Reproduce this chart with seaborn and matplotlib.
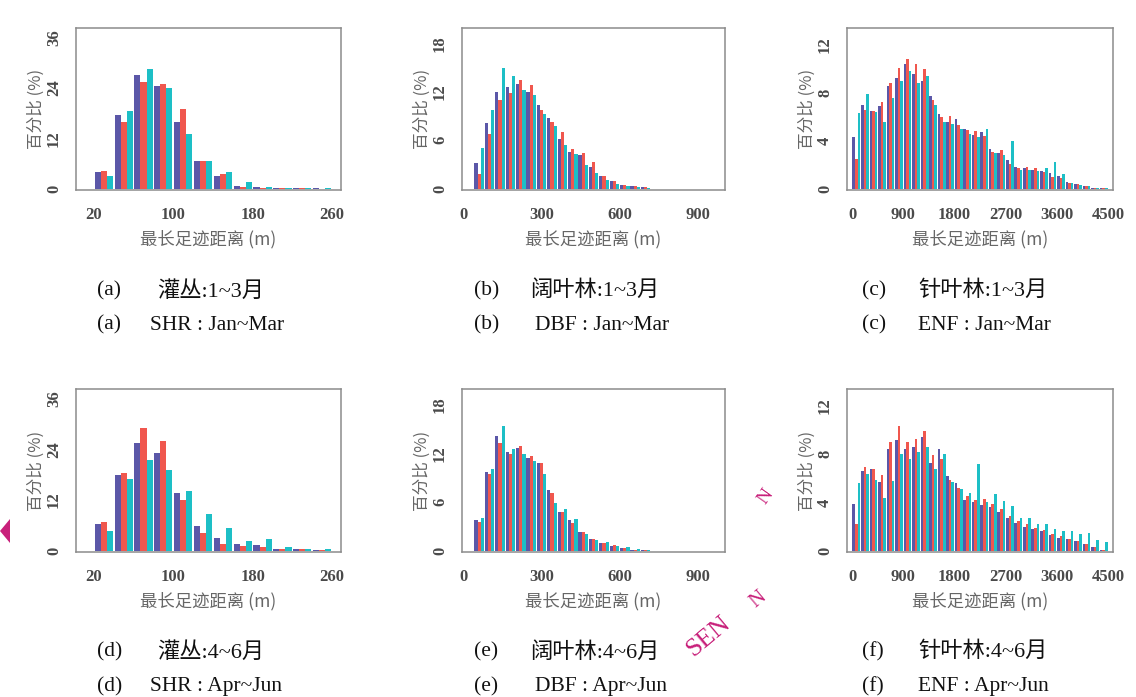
import matplotlib
matplotlib.use("Agg")
import matplotlib.pyplot as plt
import pandas as pd
import seaborn as sns
from matplotlib.patches import Polygon

# three observation series shown side by side in every bin
SERIES = ["S1", "S2", "S3"]
COLORS = ["#5b57a8", "#f0574e", "#1dbfc6"]

# bin centres (m)
SHR_BINS = [30, 50, 70, 90, 110, 130, 150, 170, 190, 210, 230, 250]
DBF_BINS = [60, 100, 140, 180, 220, 260, 300, 340, 380, 420, 460, 500, 540, 580, 620, 660, 700]
ENF_BINS = [75, 225, 375, 525, 675, 825, 975, 1125, 1275, 1425, 1575, 1725, 1875, 2025, 2175,
            2325, 2475, 2625, 2775, 2925, 3075, 3225, 3375, 3525, 3675, 3825, 3975, 4125, 4275, 4425]

# (a) SHR Jan~Mar, percent
SHR_Q1_S1 = [4.0, 17.5, 27.0, 24.5, 16.0, 6.5, 3.0, 0.6, 0.3, 0.1, 0.1, 0.1]
SHR_Q1_S2 = [4.2, 16.0, 25.5, 25.0, 19.0, 6.5, 3.5, 0.5, 0.2, 0.1, 0.1, 0.05]
SHR_Q1_S3 = [3.0, 18.5, 28.5, 24.0, 13.0, 6.5, 4.0, 1.5, 0.3, 0.2, 0.1, 0.1]
# (d) SHR Apr~Jun
SHR_Q2_S1 = [6.3, 18.0, 25.4, 23.1, 13.7, 5.9, 3.1, 1.7, 1.4, 0.5, 0.4, 0.2]
SHR_Q2_S2 = [6.7, 18.4, 29.0, 26.0, 12.1, 4.3, 1.6, 1.2, 0.9, 0.3, 0.3, 0.2]
SHR_Q2_S3 = [4.7, 17.1, 21.5, 19.2, 14.2, 8.8, 5.5, 2.3, 2.7, 0.9, 0.5, 0.3]

# (b) DBF Jan~Mar
DBF_Q1_S1 = [3.2, 8.2, 12.0, 12.6, 13.0, 12.0, 10.4, 8.8, 6.2, 4.5, 4.2, 2.7, 1.6, 1.0, 0.5, 0.3, 0.2]
DBF_Q1_S2 = [1.8, 6.8, 11.0, 11.8, 13.5, 12.8, 9.8, 8.3, 7.0, 4.9, 4.4, 3.3, 1.6, 1.0, 0.5, 0.3, 0.2]
DBF_Q1_S3 = [5.0, 9.8, 15.0, 14.0, 12.2, 11.6, 9.3, 7.8, 5.4, 4.3, 3.0, 2.0, 1.1, 0.6, 0.3, 0.2, 0.1]
# (e) DBF Apr~Jun
DBF_Q2_S1 = [3.8, 9.7, 14.1, 12.1, 12.7, 11.4, 10.8, 7.5, 4.8, 3.8, 2.3, 1.4, 1.0, 0.6, 0.3, 0.15, 0.1]
DBF_Q2_S2 = [3.6, 9.5, 13.3, 11.9, 12.9, 11.7, 10.8, 7.1, 4.8, 3.4, 2.3, 1.5, 0.9, 0.7, 0.4, 0.15, 0.1]
DBF_Q2_S3 = [4.0, 10.0, 15.4, 12.5, 11.9, 11.0, 9.4, 5.9, 5.2, 3.9, 2.1, 1.3, 1.1, 0.6, 0.5, 0.2, 0.1]

# (c) ENF Jan~Mar
ENF_Q1_S1 = [4.3, 7.0, 6.5, 6.9, 8.6, 9.2, 10.4, 9.6, 9.0, 7.7, 6.2, 5.6, 5.8, 5.0, 4.5,
             4.7, 3.3, 3.0, 2.4, 1.8, 1.7, 1.6, 1.5, 1.3, 1.1, 0.6, 0.4, 0.2, 0.1, 0.05]
ENF_Q1_S2 = [2.5, 6.6, 6.5, 7.2, 8.8, 10.1, 10.8, 10.4, 10.0, 7.4, 6.0, 6.1, 5.3, 4.9, 4.8,
             4.4, 3.1, 3.2, 2.1, 1.7, 1.8, 1.7, 1.4, 1.0, 0.9, 0.5, 0.4, 0.2, 0.1, 0.05]
ENF_Q1_S3 = [6.3, 7.9, 6.4, 5.6, 7.6, 9.0, 9.8, 8.8, 9.4, 7.0, 5.6, 5.4, 5.0, 4.6, 4.3,
             5.0, 3.0, 2.8, 4.0, 1.6, 1.6, 1.5, 1.7, 2.2, 1.2, 0.5, 0.3, 0.2, 0.1, 0.1]
# (f) ENF Apr~Jun
ENF_Q2_S1 = [3.9, 6.6, 6.8, 5.7, 8.4, 9.2, 8.4, 8.6, 9.4, 7.3, 8.4, 6.2, 5.6, 4.2, 4.0,
             3.8, 3.6, 3.2, 2.7, 2.3, 2.0, 1.8, 1.6, 1.3, 1.1, 1.0, 0.8, 0.6, 0.3, 0.1]
ENF_Q2_S2 = [2.2, 6.9, 6.8, 6.3, 9.0, 10.3, 9.0, 9.3, 9.9, 7.9, 7.6, 5.9, 5.2, 4.5, 4.2,
             4.3, 3.9, 3.5, 2.9, 2.5, 2.2, 1.9, 1.7, 1.4, 1.2, 1.0, 0.8, 0.6, 0.3, 0.1]
ENF_Q2_S3 = [5.6, 6.4, 5.9, 4.4, 5.8, 8.0, 7.6, 8.2, 8.6, 6.8, 8.0, 5.7, 5.1, 4.8, 7.2,
             4.0, 4.7, 4.1, 3.7, 2.7, 2.7, 2.2, 2.2, 1.8, 1.6, 1.6, 1.4, 1.5, 0.9, 0.7]

TITLES_CN = ["灌丛:1~3月", "阔叶林:1~3月", "针叶林:1~3月", "灌丛:4~6月", "阔叶林:4~6月", "针叶林:4~6月"]
TITLES_EN = ["SHR : Jan~Mar", "DBF : Jan~Mar", "ENF : Jan~Mar", "SHR : Apr~Jun", "DBF : Apr~Jun", "ENF : Apr~Jun"]
LETTERS = ["(a)", "(b)", "(c)", "(d)", "(e)", "(f)"]

XLABEL = "最长足迹距离 (m)"
YLABEL = "百分比 (%)"

W, H = 1136, 697
CJK = ["Noto Sans CJK SC", "DejaVu Sans"]
SERIF = ["Liberation Serif", "Noto Sans CJK SC"]


def long_frame(bins, values):
    rows = []
    for name, vals in zip(SERIES, values):
        for b, v in zip(bins, vals):
            rows.append({"bin": b, "series": name, "pct": v})
    return pd.DataFrame(rows)


def draw_panel(ax, bins, values, xlim, xticks, ylim, yticks):
    df = long_frame(bins, values)
    sns.barplot(data=df, x="bin", y="pct", hue="series", hue_order=SERIES,
                palette=COLORS, native_scale=True, width=0.92, errorbar=None,
                linewidth=0, saturation=1, legend=False, ax=ax)
    ax.set_xlim(*xlim)
    ax.set_ylim(*ylim)
    ax.set_xticks(xticks)
    ax.set_xticklabels([str(t) for t in xticks])
    ax.set_yticks(yticks)
    ax.set_yticklabels([str(t) for t in yticks], rotation=90, va="center")
    for lab in ax.get_xticklabels() + ax.get_yticklabels():
        lab.set_family("Liberation Serif")
        lab.set_fontweight("bold")
        lab.set_fontsize(12)
        lab.set_color("#4a4a4a")
    ax.tick_params(axis="both", direction="out", length=5, width=1.0, color="#808080")
    ax.tick_params(axis="x", pad=7)
    ax.tick_params(axis="y", pad=5)
    for sp in ax.spines.values():
        sp.set_visible(True)
        sp.set_color("#8c8c8c")
        sp.set_linewidth(1.1)
    ax.set_xlabel(XLABEL, family=CJK, fontsize=12.5, color="#666666", labelpad=5)
    ax.set_ylabel(YLABEL, family=CJK, fontsize=12, color="#666666", labelpad=1)
    ax.set_facecolor("white")


sns.set_theme(style="white")
plt.rcParams["font.family"] = CJK

fig = plt.figure(figsize=(W / 100, H / 100), dpi=100)
fig.patch.set_facecolor("white")

col_left = [76, 462, 847]
col_right = [341, 725, 1113]
row_top = [28, 389]
row_bottom = [190, 552]

panel_data = [
    (SHR_BINS, [SHR_Q1_S1, SHR_Q1_S2, SHR_Q1_S3]),
    (DBF_BINS, [DBF_Q1_S1, DBF_Q1_S2, DBF_Q1_S3]),
    (ENF_BINS, [ENF_Q1_S1, ENF_Q1_S2, ENF_Q1_S3]),
    (SHR_BINS, [SHR_Q2_S1, SHR_Q2_S2, SHR_Q2_S3]),
    (DBF_BINS, [DBF_Q2_S1, DBF_Q2_S2, DBF_Q2_S3]),
    (ENF_BINS, [ENF_Q2_S1, ENF_Q2_S2, ENF_Q2_S3]),
]
axis_cfg = [
    dict(xlim=(2, 269), xticks=[20, 100, 180, 260], ylim=(-0.3, 38.3), yticks=[0, 12, 24, 36]),
    dict(xlim=(-6, 1005), xticks=[0, 300, 600, 900], ylim=(-0.15, 19.9), yticks=[0, 6, 12, 18]),
    dict(xlim=(-90, 4590), xticks=[0, 900, 1800, 2700, 3600, 4500], ylim=(-0.1, 13.4), yticks=[0, 4, 8, 12]),
]

cap_letter_x = [97, 474, 862]
cap_cn_x = [157, 530, 918]
cap_en_x = [150, 535, 918]
cap_y = [(291, 325), (652, 687)]

for i, (bins, values) in enumerate(panel_data):
    r, c = divmod(i, 3)
    rect = [col_left[c] / W, 1 - row_bottom[r] / H,
            (col_right[c] - col_left[c]) / W, (row_bottom[r] - row_top[r]) / H]
    ax = fig.add_axes(rect)
    draw_panel(ax, bins, values, **axis_cfg[c])

    y1, y2 = cap_y[r]
    for yy in (y1, y2):
        fig.text(cap_letter_x[c] / W, 1 - yy / H, LETTERS[i], family=SERIF,
                 fontsize=15.5, ha="left", va="center", color="#111111")
    fig.text(cap_cn_x[c] / W, 1 - y1 / H, TITLES_CN[i], family=SERIF,
             fontsize=16, ha="left", va="center", color="#111111")
    fig.text(cap_en_x[c] / W, 1 - y2 / H, TITLES_EN[i], family=SERIF,
             fontsize=15.5, ha="left", va="center", color="#111111")

# watermark fragments
fig.text(708 / W, 1 - 636 / H, "SEN", family="Liberation Serif", fontsize=19,
         color="#c8207a", rotation=40, ha="center", va="center")
fig.text(758 / W, 1 - 600 / H, "N", family="Liberation Serif", fontsize=15,
         color="#c8207a", rotation=40, ha="center", va="center")
fig.text(766 / W, 1 - 497 / H, "N", family="Liberation Serif", fontsize=14,
         color="#c8207a", rotation=55, ha="center", va="center")
tri = [(0 / W, 1 - 531 / H), (10 / W, 1 - 519 / H), (10 / W, 1 - 543 / H)]
fig.add_artist(Polygon(tri, closed=True, transform=fig.transFigure,
                       facecolor="#c8207a", edgecolor="none"))

fig.savefig("out.png", dpi=100)
